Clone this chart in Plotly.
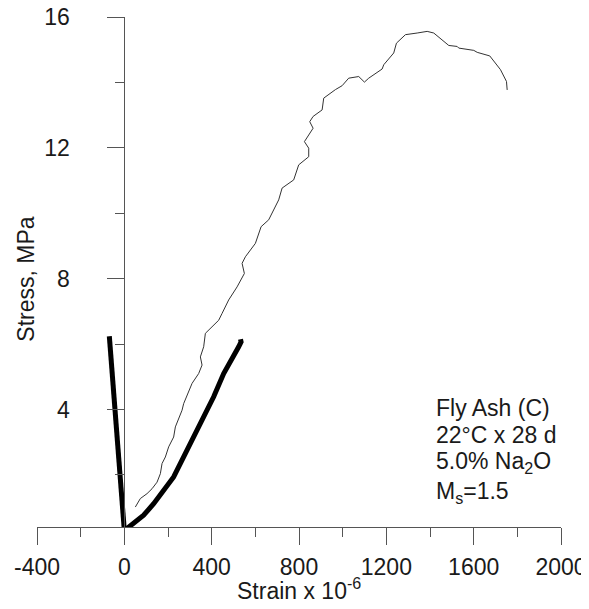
import plotly.graph_objects as go

# Thin curve (stress vs strain, second specimen)
thin_strain = [50.4, 73.3, 104.0, 126.9, 149.8, 165.0, 172.7, 187.9, 203.0, 225.9, 233.7, 248.8,
               264.4, 271.7, 294.6, 310.2, 340.4, 356.0, 348.2, 363.4, 371.1, 432.1, 447.7, 477.9,
               516.4, 549.8, 539.3, 554.4, 600.2, 615.4, 626.4, 661.2, 684.1, 707.0, 722.6, 775.7,
               798.6, 844.5, 844.5, 824.8, 864.6, 849.1, 864.6, 905.9, 913.2, 966.8, 997.5, 1027.7,
               1073.6, 1099.7, 1119.4, 1180.8, 1188.1, 1233.9, 1246.3, 1287.5, 1341.2, 1387.0,
               1417.2, 1486.0, 1524.5, 1531.8, 1600.5, 1616.1, 1673.8, 1722.8, 1750.3, 1753.5]
thin_stress = [1.02, 1.28, 1.43, 1.58, 1.78, 2.04, 2.35, 2.55, 2.86, 3.16, 3.47, 3.73,
               3.98, 4.18, 4.54, 4.80, 5.10, 5.36, 5.61, 5.92, 6.33, 6.73, 6.94, 7.35,
               7.75, 8.16, 8.47, 8.67, 9.08, 9.39, 9.59, 9.80, 10.10, 10.41, 10.77, 11.02,
               11.48, 11.73, 11.99, 12.19, 12.60, 12.80, 12.96, 13.16, 13.52, 13.78, 13.90, 14.13,
               14.18, 14.01, 14.13, 14.41, 14.54, 14.90, 15.20, 15.46, 15.51, 15.56,
               15.51, 15.13, 15.10, 15.05, 14.98, 14.92, 14.81, 14.39, 14.03, 13.77]

# Thick curve: axial strain
axial_strain = [0, 42.6, 88.4, 134.3, 180.1, 225.9, 271.7, 317.5, 363.4, 409.2, 455.0, 500.8,
                523.7, 534.7, 532.0]
axial_stress = [0.30, 0.51, 0.77, 1.12, 1.53, 1.94, 2.55, 3.16, 3.77, 4.39, 5.10, 5.61,
                5.92, 6.07, 6.15]

# Thick curve: lateral strain
lateral_strain = [0, -11.6, -23.1, -35.9, -48.6, -61.3, -68.7]
lateral_stress = [0.30, 1.3, 2.3, 3.4, 4.5, 5.6, 6.24]

x_ticks = [-400, 0, 400, 800, 1200, 1600, 2000]
y_ticks = [4, 8, 12, 16]

note_lines = ["Fly Ash (C)", "22°C x 28 d", "5.0% Na<sub>2</sub>O", "M<sub>s</sub>=1.5"]

FONT = "Arial, Liberation Sans, sans-serif"
AX = "#555555"
FS = 23

fig = go.Figure()
fig.add_trace(go.Scatter(x=thin_strain, y=thin_stress, mode="lines",
                         line=dict(color="#333333", width=1), showlegend=False))
fig.add_trace(go.Scatter(x=axial_strain, y=axial_stress, mode="lines",
                         line=dict(color="black", width=5), showlegend=False))
fig.add_trace(go.Scatter(x=lateral_strain, y=lateral_stress, mode="lines",
                         line=dict(color="black", width=5), showlegend=False))

fig.update_layout(
    width=589, height=609,
    margin=dict(l=29, r=36, t=9, b=90, autoexpand=False),
    paper_bgcolor="white", plot_bgcolor="white",
    font=dict(family=FONT, size=FS, color="#1a1a1a"),
    xaxis=dict(range=[-400, 2000], tickvals=x_ticks, ticktext=[str(v) for v in x_ticks],
               automargin=False, ticklabeloverflow="allow",
               showgrid=False, zeroline=False, showline=True, linecolor=AX, linewidth=1,
               ticks="outside", ticklen=17, tickcolor=AX, tickwidth=1,
               ticklabelstandoff=2,
               minor=dict(dtick=200, tick0=0, ticks="outside", ticklen=9, tickcolor=AX,
                          tickwidth=1, showgrid=False),
               tickfont=dict(size=FS)),
    yaxis=dict(range=[0.41, 16], tickvals=y_ticks, ticktext=[str(v) for v in y_ticks],
               anchor="free", position=1/6, side="left", automargin=False,
               ticklabeloverflow="allow",
               showgrid=False, zeroline=False, showline=True, linecolor=AX, linewidth=1,
               ticks="outside", ticklen=17, tickcolor=AX, tickwidth=1,
               ticklabelstandoff=33,
               minor=dict(dtick=2, tick0=0, ticks="outside", ticklen=9, tickcolor=AX,
                          tickwidth=1, showgrid=False),
               tickfont=dict(size=FS)),
)

fig.add_annotation(text="Stress, MPa", textangle=-90, xref="paper", yref="y",
                   x=-0.021, y=8, xanchor="center", yanchor="middle",
                   showarrow=False, font=dict(size=FS))
fig.add_annotation(text="Strain x 10<sup>-6</sup>", xref="paper", yref="paper",
                   x=0.5, y=-0.122, xanchor="center", yanchor="middle",
                   showarrow=False, font=dict(size=FS))

note_y = [0.2335, 0.1799, 0.1256, 0.0667]
for txt, yy in zip(note_lines, note_y):
    fig.add_annotation(text=txt, xref="paper", yref="paper", x=0.757, y=yy,
                       xanchor="left", yanchor="middle", showarrow=False,
                       font=dict(size=FS))

fig.write_html("out.html")
